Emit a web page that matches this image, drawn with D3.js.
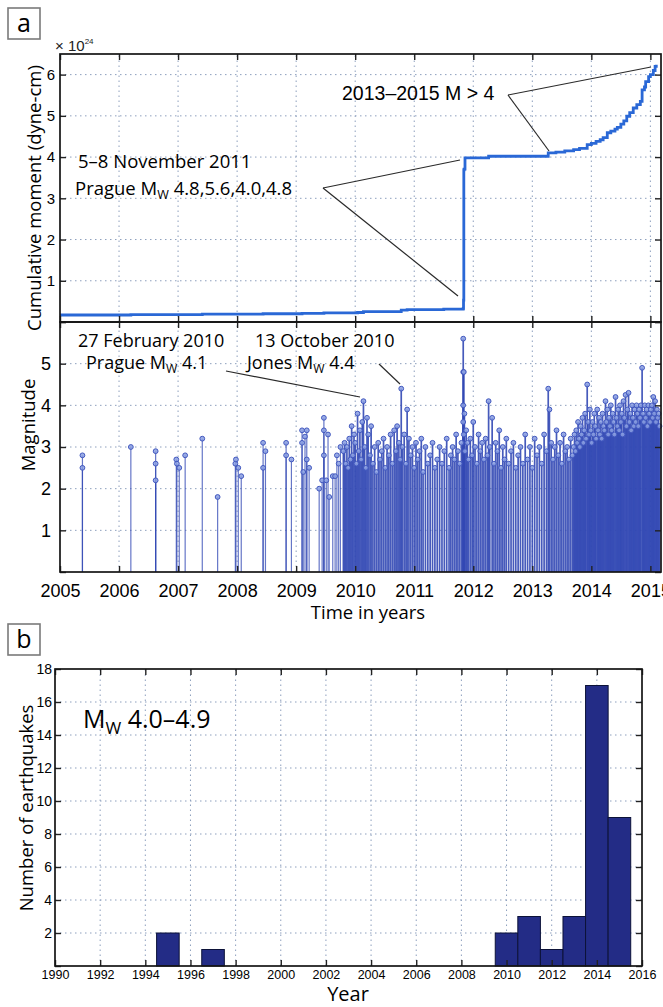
<!DOCTYPE html>
<html>
<head>
<meta charset="utf-8">
<script src="https://cdn.jsdelivr.net/npm/d3@7"></script>
<style>
  body { margin: 0; background: #fff; }
  .grid line { stroke: #8d9fbd; stroke-width: 1; stroke-dasharray: 1.5,3.5; }
</style>
</head>
<body>
<svg id="fig" width="663" height="1007"></svg>
<script>
// ---- panel a, top: cumulative seismic moment (x 10^24 dyne-cm)
const momentYears  = [2005.0, 2005.38, 2006.2, 2006.62, 2007.41, 2008.44, 2008.83, 2009.1, 2009.47, 2010.04,
                      2010.14, 2010.78, 2010.88, 2011.5, 2011.83, 2011.835, 2011.84, 2011.845, 2011.86, 2012.26,
                      2013.27, 2013.4, 2013.55, 2013.7, 2013.8, 2013.93, 2014.0, 2014.08, 2014.15, 2014.2,
                      2014.27, 2014.33, 2014.4, 2014.44, 2014.5, 2014.55, 2014.6, 2014.65, 2014.71, 2014.77,
                      2014.83, 2014.86, 2014.9, 2014.92, 2014.97, 2015.0, 2015.05, 2015.08, 2015.1]
const momentValues = [0.17, 0.17, 0.18, 0.18, 0.19, 0.2, 0.2, 0.21, 0.22, 0.23,
                      0.25, 0.29, 0.3, 0.31, 0.33, 0.53, 3.69, 3.71, 3.98, 4.02,
                      4.1, 4.12, 4.15, 4.18, 4.21, 4.3, 4.33, 4.38, 4.42, 4.47,
                      4.59, 4.63, 4.68, 4.72, 4.8, 4.88, 4.99, 5.08, 5.19, 5.27,
                      5.35, 5.63, 5.7, 5.83, 5.95, 6.0, 6.1, 6.2, 6.24]

// ---- panel a, bottom: events [decimal year, magnitude]
const quakesEarly = [
  [2005.38,2.8],[2005.38,2.5],[2006.2,3.0],[2006.62,2.9],[2006.62,2.6],[2006.62,2.2],
  [2006.97,2.7],[2006.98,2.6],[2007.02,2.5],[2007.12,2.8],[2007.41,3.2],[2007.67,1.8],
  [2007.97,2.6],[2007.98,2.7],[2008.02,2.5],[2008.07,2.3],[2008.44,3.1],[2008.44,2.5],
  [2008.48,2.9],[2008.83,3.1],[2008.83,2.8],[2008.92,2.7],[2009.1,3.4],[2009.1,3.1],
  [2009.12,2.4],[2009.15,3.25],[2009.18,3.4],[2009.18,2.7],[2009.22,2.5],[2009.39,2.0],
  [2009.44,2.2],[2009.47,3.7],[2009.47,3.4],[2009.47,2.8],[2009.51,2.2],[2009.54,3.3],
  [2009.56,1.8],[2009.62,2.3],[2009.66,2.3],[2009.69,2.8],[2009.72,2.6],[2009.75,3.0]
]
const quakesMid = [
  [2009.80,2.9],[2009.82,3.1],[2009.84,2.6],[2009.86,3.0],[2009.88,2.5],[2009.90,3.2],[2009.92,2.7],
  [2009.94,3.5],[2009.96,2.8],[2009.98,3.3],[2010.00,3.1],[2010.02,2.6],[2010.04,3.8],[2010.06,2.9],
  [2010.08,3.4],[2010.10,2.7],[2010.12,3.6],[2010.14,4.1],[2010.16,3.0],[2010.18,2.5],[2010.20,3.7],
  [2010.22,3.3],[2010.25,2.8],[2010.27,3.5],[2010.30,2.6],[2010.33,3.0],[2010.36,2.4],[2010.39,3.1],
  [2010.42,2.7],[2010.45,2.9],[2010.48,3.2],[2010.51,2.5],[2010.54,3.0],[2010.57,2.8],[2010.60,3.3],
  [2010.63,2.6],[2010.66,3.4],[2010.69,2.9],[2010.71,3.5],[2010.74,3.1],[2010.76,2.7],[2010.78,4.4],
  [2010.80,3.0],[2010.83,3.3],[2010.86,2.6],[2010.88,3.9],[2010.91,3.2],[2010.94,2.8],[2010.97,3.0],
  [2011.00,2.5],[2011.03,3.1],[2011.06,2.7],[2011.09,2.9],[2011.12,3.2],[2011.15,2.4],[2011.19,3.0],
  [2011.23,2.6],[2011.27,2.8],[2011.31,3.1],[2011.35,2.5],[2011.39,2.7],[2011.43,3.0],[2011.47,2.6],
  [2011.51,2.9],[2011.55,3.2],[2011.59,2.5],[2011.62,2.8],[2011.65,3.0],[2011.68,2.7],[2011.71,3.3],
  [2011.74,2.9],[2011.77,2.6],[2011.80,3.1],[2011.83,5.6],[2011.83,4.8],[2011.83,4.0],[2011.83,3.6],
  [2011.84,4.8],[2011.84,3.3],[2011.85,3.8],[2011.86,2.9],[2011.88,3.4],[2011.90,3.1],[2011.92,2.7],
  [2011.95,3.2],[2011.98,2.8],[2012.00,3.6],[2012.03,3.0],[2012.06,2.6],[2012.09,3.3],[2012.12,2.9],
  [2012.15,3.1],[2012.18,2.7],[2012.21,3.2],[2012.24,2.8],[2012.26,4.1],[2012.28,3.0],[2012.32,3.7],
  [2012.35,2.6],[2012.38,3.1],[2012.41,2.9],[2012.44,3.4],[2012.47,2.5],[2012.50,3.0],[2012.53,2.7],
  [2012.56,3.2],[2012.60,2.6],[2012.64,2.9],[2012.68,3.1],[2012.72,2.5],[2012.76,2.8],[2012.80,3.0],
  [2012.84,2.6],[2012.88,3.3],[2012.92,2.7],[2012.96,3.0],[2013.00,2.5],[2013.04,3.2],[2013.08,2.8],
  [2013.12,3.0],[2013.16,2.6],[2013.20,3.3],[2013.24,2.9],[2013.27,4.4],[2013.29,3.9],[2013.32,3.1],
  [2013.35,2.7],[2013.38,3.0],[2013.41,3.4],[2013.44,2.8],[2013.47,3.1],[2013.50,2.6],[2013.53,3.3],
  [2013.56,2.9],[2013.59,3.0],[2013.62,2.7],[2013.65,3.2],[2013.68,2.8]
]
const quakesLate = [
  [2013.700,3.0],[2013.715,3.3],[2013.730,2.9],[2013.745,3.4],[2013.760,3.1],[2013.775,3.6],
  [2013.790,3.2],[2013.805,3.0],[2013.820,3.5],[2013.835,3.3],[2013.850,3.7],[2013.865,3.1],
  [2013.880,3.4],[2013.895,3.8],[2013.910,3.2],[2013.930,4.5],[2013.945,3.6],[2013.960,3.3],
  [2013.975,3.9],[2013.990,3.4],[2014.005,3.1],[2014.020,3.6],[2014.035,3.3],[2014.050,3.8],
  [2014.065,3.5],[2014.080,3.2],[2014.100,3.9],[2014.115,3.4],[2014.130,3.7],[2014.145,3.3],
  [2014.160,3.6],[2014.175,3.2],[2014.190,3.8],[2014.205,3.5],[2014.220,3.4],[2014.240,4.1],
  [2014.255,3.6],[2014.270,3.9],[2014.285,3.3],[2014.300,3.7],[2014.315,3.5],[2014.330,4.0],
  [2014.345,3.4],[2014.360,3.8],[2014.375,3.6],[2014.390,3.3],[2014.410,4.2],[2014.425,3.7],
  [2014.440,3.5],[2014.455,3.9],[2014.470,3.4],[2014.485,4.0],[2014.500,3.6],[2014.515,3.8],
  [2014.530,3.3],[2014.545,4.1],[2014.560,3.7],[2014.580,4.25],[2014.595,3.5],[2014.610,3.9],
  [2014.630,4.3],[2014.645,3.6],[2014.660,3.8],[2014.675,3.4],[2014.690,4.0],[2014.705,3.7],
  [2014.720,3.5],[2014.735,3.9],[2014.750,3.6],[2014.765,4.0],[2014.780,3.8],[2014.795,3.5],
  [2014.810,3.9],[2014.825,3.7],[2014.840,4.0],[2014.860,4.9],[2014.875,3.8],[2014.890,3.6],
  [2014.905,4.0],[2014.920,3.7],[2014.935,3.9],[2014.950,3.5],[2014.965,4.0],[2014.980,3.8],
  [2014.995,3.6],[2015.010,3.9],[2015.025,4.0],[2015.040,3.7],[2015.050,4.2],[2015.065,3.8],
  [2015.080,4.1],[2015.095,3.6],[2015.110,3.9],[2015.125,3.7],[2015.140,3.8],[2015.155,3.5]
]

// ---- panel b: Mw 4.0-4.9 counts per year
const binYears  = [1995, 1997, 2010, 2011, 2012, 2013, 2014, 2015]
const binCounts = [2, 1, 2, 3, 1, 3, 17, 9]

const svg = d3.select("#fig")
const lab = "'Open Sans', 'Noto Sans', sans-serif"
const num = "'Liberation Sans', Arial, sans-serif"
const ink = "#000"

const xA = d3.scaleLinear().domain([2005, 2015.18]).range([60, 661])
const yMom = d3.scaleLinear().domain([0, 6.5]).range([322, 54])
const yMag = d3.scaleLinear().domain([0, 6]).range([572, 322])
const xB = d3.scaleLinear().domain([1990, 2016]).range([55, 642])
const yB = d3.scaleLinear().domain([0, 18]).range([966, 669])

const yearsA = d3.range(2005, 2016)
const yearsB = d3.range(1990, 2017, 2)

function drawGrid(x, y, xt, yt) {
    const [x0, x1] = x.range(), [y0, y1] = y.range()
    const g = svg.append("g").attr("class", "grid")
    g.selectAll(".gx").data(xt.filter(d => x(d) > x0 + 1 && x(d) < x1 - 1))
        .enter().append("line").attr("class", "gx")
        .attr("x1", d => x(d)).attr("x2", d => x(d)).attr("y1", y0).attr("y2", y1)
    g.selectAll(".gy").data(yt.filter(d => y(d) < y0 - 1 && y(d) > y1 + 1))
        .enter().append("line").attr("class", "gy")
        .attr("x1", x0).attr("x2", x1).attr("y1", d => y(d)).attr("y2", d => y(d))
}

function drawAxes(x, y, xt, yt, o) {
    const [x0, x1] = x.range(), [yb, ytop] = y.range()
    const bot = svg.append("g").attr("transform", `translate(0,${yb})`)
        .call(d3.axisBottom(x).tickValues(xt).tickSizeInner(-6).tickSizeOuter(0)
            .tickPadding(o.xPad || 0).tickFormat(o.xLabels ? d3.format("d") : ""))
    bot.selectAll("text").attr("font-size", o.xSize).attr("font-family", num).attr("fill", ink)
    svg.append("g").attr("transform", `translate(0,${ytop})`)
        .call(d3.axisTop(x).tickValues(xt).tickSizeInner(-6).tickSizeOuter(0).tickFormat(""))
    const left = svg.append("g").attr("transform", `translate(${x0},0)`)
        .call(d3.axisLeft(y).tickValues(yt).tickSizeInner(-6).tickSizeOuter(0)
            .tickPadding(o.yPad).tickFormat(d => (d === 0 || d > o.yMaxLabel) ? "" : d))
    left.selectAll("text").attr("font-size", o.ySize).attr("font-family", num).attr("fill", ink)
    svg.append("g").attr("transform", `translate(${x1},0)`)
        .call(d3.axisRight(y).tickValues(yt).tickSizeInner(-6).tickSizeOuter(0).tickFormat(""))
    svg.selectAll(".domain").remove()
    svg.selectAll(".tick line").attr("stroke", "#222").attr("stroke-width", 1.4)
    svg.append("rect").attr("x", x0).attr("y", ytop)
        .attr("width", x1 - x0).attr("height", yb - ytop)
        .attr("fill", "none").attr("stroke", "#151515").attr("stroke-width", 1.7)
}

function note(x, y, pre, sub, post, size, family) {
    const t = svg.append("text").attr("x", x).attr("y", y)
        .attr("font-size", size).attr("font-family", family || lab)
        .attr("font-weight", family ? 400 : 500).attr("fill", ink)
    t.append("tspan").text(pre)
    if (sub) {
        t.append("tspan").attr("font-size", size * 0.68).attr("dy", size * 0.22).text(sub)
        t.append("tspan").attr("dy", -size * 0.22).text(post)
    }
    return t
}

function title(x, y, rot, txt, size) {
    svg.append("text").attr("transform", `translate(${x},${y})` + (rot ? " rotate(-90)" : ""))
        .attr("text-anchor", "middle").attr("font-size", size).attr("font-family", lab)
        .attr("font-weight", 500).attr("fill", ink).text(txt)
}

function leader(x1, y1, x2, y2) {
    svg.append("line").attr("x1", x1).attr("y1", y1).attr("x2", x2).attr("y2", y2)
        .attr("stroke", "#2a2a2a").attr("stroke-width", 1.2)
}

function panelTag(x, y, letter) {
    svg.append("rect").attr("x", x).attr("y", y).attr("width", 32).attr("height", 31)
        .attr("fill", "#fff").attr("stroke", "#7a7a7a").attr("stroke-width", 1.6)
    svg.append("text").attr("x", x + 16).attr("y", y + 24).attr("text-anchor", "middle")
        .attr("font-size", 25).attr("font-family", lab).attr("font-weight", 500)
        .attr("fill", ink).text(letter)
}

/* ---------- panel a, top ---------- */
drawGrid(xA, yMom, yearsA, d3.range(0, 7))
const momentData = momentYears.map((t, i) => [t, momentValues[i]])
svg.append("path").datum(momentData)
    .attr("fill", "none").attr("stroke", "#2a68d6").attr("stroke-width", 2.8)
    .attr("d", d3.line().x(d => xA(d[0])).y(d => yMom(d[1])).curve(d3.curveStepAfter))
drawAxes(xA, yMom, yearsA, d3.range(0, 7), { xLabels: false, ySize: 15, yPad: 5, yMaxLabel: 6 })

svg.append("text").attr("x", 55).attr("y", 51).attr("font-size", 15).attr("font-family", num)
    .attr("fill", "#222").text("× 10")
    .append("tspan").attr("font-size", 8).attr("dy", -7).text("24")

title(41, 198, true, "Cumulative moment (dyne-cm)", 18.5)

/* ---------- panel a, bottom ---------- */
drawGrid(xA, yMag, yearsA, d3.range(0, 6))
const quakes = quakesEarly.concat(quakesMid, quakesLate)
const stems = svg.append("g")
stems.selectAll("line").data(quakes).enter().append("line")
    .attr("x1", d => xA(d[0])).attr("x2", d => xA(d[0]))
    .attr("y1", yMag(0)).attr("y2", d => yMag(d[1]))
    .attr("stroke", "#3248b4").attr("stroke-opacity", d => d[0] > 2009.78 ? 0.9 : 0.75)
    .attr("stroke-width", d => d[0] > 2009.78 ? 1.7 : 1.2)
stems.selectAll("circle").data(quakes).enter().append("circle")
    .attr("cx", d => xA(d[0])).attr("cy", d => yMag(d[1])).attr("r", 2.4)
    .attr("fill", "#8a9fe2").attr("fill-opacity", 0.85)
    .attr("stroke", "#4258bf").attr("stroke-width", 1)
drawAxes(xA, yMag, yearsA, d3.range(0, 7), { xLabels: true, xSize: 18, xPad: 12, ySize: 18, yPad: 9, yMaxLabel: 5 })

title(35, 425, true, "Magnitude", 18.5)
title(368, 619, false, "Time in years", 18.5)

// annotations
note(78, 168, "5–8 November 2011", null, null, 18.5)
note(75, 195, "Prague M", "W", "  4.8,5.6,4.0,4.8", 18.5)
leader(323, 188, 460, 160)
leader(323, 188, 458, 296)
note(342, 100, "2013–2015 M > 4", null, null, 19.5, num)
leader(508, 95, 651, 67)
leader(508, 95, 549, 151)
note(78, 347, "27 February 2010", null, null, 18)
note(86, 369, "Prague M", "W", "  4.1", 18)
note(255, 347, "13 October 2010", null, null, 18)
note(247, 369, "Jones M", "W", "  4.4", 18)
leader(226, 371, 360, 397)
leader(379, 364, 400, 384)

panelTag(8, 8, "a")

/* ---------- panel b ---------- */
drawGrid(xB, yB, yearsB, d3.range(0, 19, 2))
svg.append("g").selectAll("rect").data(binYears).enter().append("rect")
    .attr("x", d => xB(d - 0.5)).attr("width", d => xB(d + 0.5) - xB(d - 0.5))
    .attr("y", (d, i) => yB(binCounts[i])).attr("height", (d, i) => yB(0) - yB(binCounts[i]))
    .attr("fill", "#232c86").attr("stroke", "#0c1238").attr("stroke-width", 1)
drawAxes(xB, yB, yearsB, d3.range(0, 19, 2), { xLabels: true, xSize: 12.5, xPad: 4, ySize: 14, yPad: 3, yMaxLabel: 18 })

title(33, 808, true, "Number of earthquakes", 18.5)
title(348, 1001, false, "Year", 20)
note(83, 728, "M", "W", " 4.0–4.9", 25)

panelTag(8, 624, "b")
</script>
</body>
</html>
